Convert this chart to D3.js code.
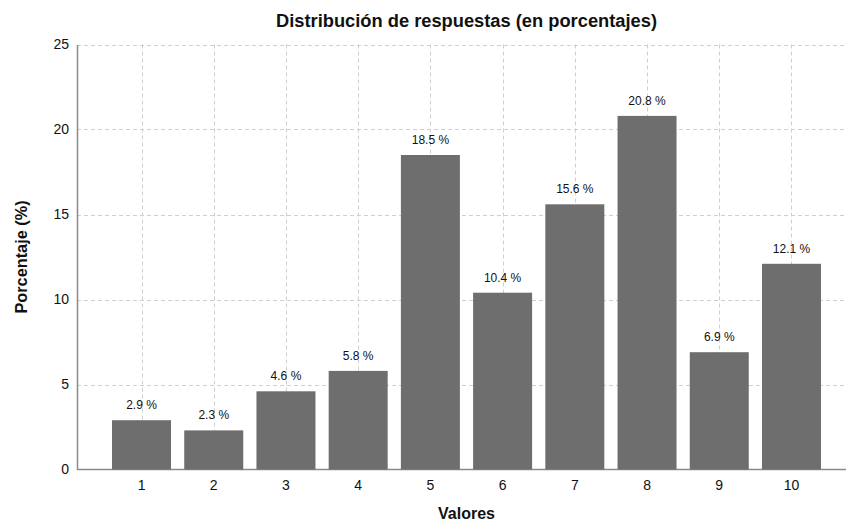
<!DOCTYPE html>
<html>
<head>
<meta charset="utf-8">
<script src="https://cdn.jsdelivr.net/npm/d3@7"></script>
<style>
  html, body { margin: 0; padding: 0; background: #fff; }
  svg { display: block; font-family: "Liberation Sans", Arial, Helvetica, sans-serif; }
</style>
</head>
<body>
<svg id="chart" width="846" height="523"></svg>
<script>
const categories = ["1", "2", "3", "4", "5", "6", "7", "8", "9", "10"];
const values = [2.9, 2.3, 4.6, 5.8, 18.5, 10.4, 15.6, 20.8, 6.9, 12.1];
const yTicks = [0, 5, 10, 15, 20, 25];
const titleText = "Distribución de respuestas (en porcentajes)";
const xLabel = "Valores";
const yLabel = "Porcentaje (%)";

const svg = d3.select("#chart");
const margin = { left: 77, top: 44.5, bottom: 469.5, right: 856 };

const x = d3.scaleBand().domain(categories).range([margin.left, margin.right])
  .paddingInner(0.183).paddingOuter(0.485);
const y = d3.scaleLinear().domain([0, 25]).range([margin.bottom, margin.top]);

// grid
const grid = svg.append("g");
grid.selectAll("line.h").data(yTicks.filter(d => d > 0)).join("line")
  .attr("x1", margin.left).attr("x2", 846)
  .attr("y1", d => Math.round(y(d)) + 0.5).attr("y2", d => Math.round(y(d)) + 0.5)
  .attr("stroke", "#cfcfcf").attr("stroke-width", 1).attr("stroke-dasharray", "4,3");
grid.selectAll("line.v").data(categories).join("line")
  .attr("x1", d => Math.round(x(d) + x.bandwidth() / 2) + 0.5)
  .attr("x2", d => Math.round(x(d) + x.bandwidth() / 2) + 0.5)
  .attr("y1", margin.top).attr("y2", margin.bottom)
  .attr("stroke", "#cfcfcf").attr("stroke-width", 1).attr("stroke-dasharray", "4,3");

// bottom axis line
svg.append("line").attr("x1", margin.left).attr("x2", 846)
  .attr("y1", margin.bottom).attr("y2", margin.bottom)
  .attr("stroke", "#8a8a8a").attr("stroke-width", 1.5);

// bars
svg.append("g").selectAll("rect").data(values).join("rect")
  .attr("x", (d, i) => x(categories[i]))
  .attr("width", x.bandwidth())
  .attr("y", d => y(d))
  .attr("height", d => y(0) - y(d))
  .attr("fill", "#6e6e6e");

// value labels
svg.append("g").selectAll("text").data(values).join("text")
  .attr("x", (d, i) => x(categories[i]) + x.bandwidth() / 2)
  .attr("y", d => y(d) - 11)
  .attr("text-anchor", "middle")
  .attr("font-size", 12)
  .attr("fill", "#111")
  .text(d => d.toFixed(1) + " %");

// left axis
const yAxis = d3.axisLeft(y).tickValues(yTicks).tickSize(0).tickPadding(8);
const gy = svg.append("g").attr("transform", `translate(${margin.left},0)`).call(yAxis);
gy.select(".domain").attr("stroke", "#8a8a8a").attr("stroke-width", 1.5);
gy.selectAll("text").attr("font-size", 14).attr("fill", "#111")
  .attr("font-family", "Liberation Sans, Arial, sans-serif");

// bottom tick labels
const xAxis = d3.axisBottom(x).tickSize(0).tickPadding(11);
const gx = svg.append("g").attr("transform", `translate(0,${margin.bottom})`).call(xAxis);
gx.select(".domain").remove();
gx.selectAll("text").attr("font-size", 14).attr("fill", "#111")
  .attr("font-family", "Liberation Sans, Arial, sans-serif");

// title
svg.append("text").attr("x", (margin.left + margin.right) / 2).attr("y", 27)
  .attr("text-anchor", "middle").attr("font-size", 18.3).attr("font-weight", "bold")
  .attr("fill", "#111").text(titleText);

// axis titles
svg.append("text").attr("x", (margin.left + margin.right) / 2).attr("y", 519)
  .attr("text-anchor", "middle").attr("font-size", 16).attr("font-weight", "bold")
  .attr("fill", "#111").text(xLabel);
svg.append("text").attr("transform", `translate(27,${(margin.top + margin.bottom) / 2}) rotate(-90)`)
  .attr("text-anchor", "middle").attr("font-size", 16.3).attr("font-weight", "bold")
  .attr("fill", "#111").text(yLabel);
</script>
</body>
</html>
